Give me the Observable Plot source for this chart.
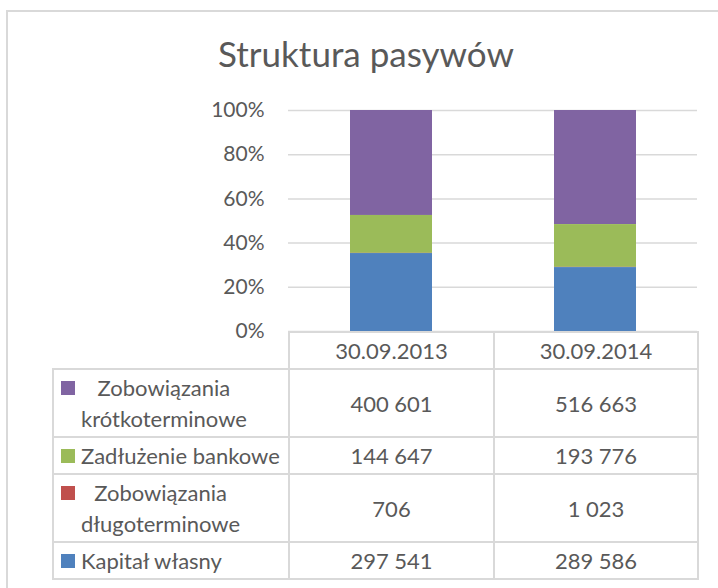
<!DOCTYPE html>
<html>
<head>
<meta charset="utf-8">
<script src="https://cdn.jsdelivr.net/npm/d3@7"></script>
<script src="https://cdn.jsdelivr.net/npm/@observablehq/plot@0.6"></script>
<style>
  html, body { margin: 0; padding: 0; background: #fff; overflow: hidden; }
  #root { position: relative; width: 718px; height: 588px; overflow: hidden; font-family: Lato, "Noto Sans", sans-serif; color: #595959; }
  #frame { position: absolute; left: 6px; top: 10px; width: 800px; height: 700px; border: 2px solid #d9d9d9; box-sizing: border-box; }
  #title { position: absolute; left: 7px; width: 718px; top: 35px; text-align: center; font-size: 35px; line-height: 36px; white-space: nowrap; }
  #chart { position: absolute; left: 0; top: 0; }
  #chart svg { overflow: visible; }
  #tbl { position: absolute; left: 52px; top: 331px; border-collapse: collapse; table-layout: fixed; font-size: 22px; line-height: 31px; }
  #tbl td { border: 2px solid #d9d9d9; padding: 2px 0 2px 0; text-align: center; vertical-align: middle; white-space: nowrap; }
  #tbl td.blank { border: none; }
  #tbl td.lab { text-align: left; }
  .lab .wrap { display: flex; align-items: flex-start; }
  .lab .key { flex: none; width: 14px; height: 14px; margin: 9px 6px 0 7px; }
  .lab .txt { text-align: center; white-space: nowrap; }
</style>
</head>
<body>
<div id="root">
  <div id="frame"></div>
  <div id="title"></div>
  <div id="chart"></div>
  <table id="tbl"></table>
</div>
<script>
// ---- data ----
const chartTitle = "Struktura pasywów";
const dates = ["30.09.2013", "30.09.2014"];
// series in table order (top to bottom)
const seriesNames = ["Zobowiązania krótkoterminowe", "Zadłużenie bankowe", "Zobowiązania długoterminowe", "Kapitał własny"];
const zobKrotko = [400601, 516663];
const zadluzenie = [144647, 193776];
const zobDlugo = [706, 1023];
const kapital = [297541, 289586];
const yTicks = [0, 0.2, 0.4, 0.6, 0.8, 1];

// ---- build ----
const seriesValues = [zobKrotko, zadluzenie, zobDlugo, kapital];
const palette = ["#8064A2", "#9BBB59", "#C0504D", "#4F81BD"];
const colorOf = Object.fromEntries(seriesNames.map((s, i) => [s, palette[i]]));
const rows = [];
seriesNames.forEach((s, i) => dates.forEach((d, j) => rows.push({date: d, series: s, value: seriesValues[i][j]})));
const stackOrder = seriesNames.slice().reverse(); // bottom first
const pct = d => Math.round(d * 100) + "%";

document.getElementById("title").textContent = chartTitle;

const chart = Plot.plot({
  width: 718,
  height: 350,
  marginLeft: 288,
  marginRight: 21,
  marginTop: 110,
  marginBottom: 19,
  style: {fontFamily: "Lato, 'Noto Sans', sans-serif", fontSize: "21px", color: "#595959", background: "transparent", overflow: "visible"},
  x: {domain: dates, paddingInner: 0.6, paddingOuter: 0.3, axis: null},
  y: {domain: [0, 1], label: null},
  color: {domain: seriesNames, range: palette},
  marks: [
    Plot.gridY(yTicks, {stroke: "#d9d9d9", strokeOpacity: 1, strokeWidth: 1.5}),
    Plot.axisY(yTicks, {tickSize: 0, tickPadding: 24, tickFormat: pct, label: null}),
    Plot.barY(rows, Plot.stackY({x: "date", y: "value", z: "series", fill: "series", offset: "normalize", order: stackOrder}))
  ]
});
document.getElementById("chart").appendChild(chart);

// ---- data table ----
const fmt = d3.formatLocale({decimal: ",", thousands: " ", grouping: [3], currency: ["", ""]}).format(",d");
const ctx = document.createElement("canvas").getContext("2d");
ctx.font = "22px Lato";
const availText = 205;
function wrapWords(text) {
  const words = text.split(" ");
  const lines = [];
  let cur = "";
  words.forEach(w => {
    const t = cur ? cur + " " + w : w;
    if (cur && ctx.measureText(t).width > availText) { lines.push(cur); cur = w; }
    else cur = t;
  });
  if (cur) lines.push(cur);
  return lines;
}
const tbl = document.getElementById("tbl");
const colgroup = document.createElement("colgroup");
[236, 205, 204].forEach(w => { const c = document.createElement("col"); c.style.width = w + "px"; colgroup.appendChild(c); });
tbl.appendChild(colgroup);
const head = document.createElement("tr");
const blank = document.createElement("td"); blank.className = "blank"; head.appendChild(blank);
dates.forEach(d => { const td = document.createElement("td"); td.textContent = d; head.appendChild(td); });
tbl.appendChild(head);
seriesNames.forEach((s, i) => {
  const tr = document.createElement("tr");
  const lab = document.createElement("td"); lab.className = "lab";
  const wrap = document.createElement("div"); wrap.className = "wrap";
  const key = document.createElement("span"); key.className = "key"; key.style.background = colorOf[s];
  const txt = document.createElement("span"); txt.className = "txt";
  wrapWords(s).forEach((line, k) => {
    if (k) txt.appendChild(document.createElement("br"));
    txt.appendChild(document.createTextNode(line));
  });
  wrap.appendChild(key); wrap.appendChild(txt); lab.appendChild(wrap); tr.appendChild(lab);
  seriesValues[i].forEach(v => { const td = document.createElement("td"); td.textContent = fmt(v); tr.appendChild(td); });
  tbl.appendChild(tr);
});
</script>
</body>
</html>
